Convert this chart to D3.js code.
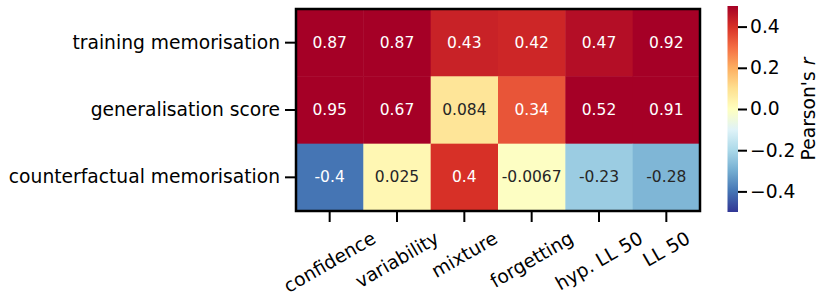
<!DOCTYPE html>
<html>
<head>
<meta charset="utf-8">
<script src="https://cdn.jsdelivr.net/npm/d3@7"></script>
<style>
    body { margin: 0; background: #fff; }
    svg { display: block; font-family: "DejaVu Sans", sans-serif; }
</style>
</head>
<body>
<div class="graphContainer"></div>
<script>
// Row and column labels
const rowNames = ['training memorisation', 'generalisation score', 'counterfactual memorisation'];
const colNames = ['confidence', 'variability', 'mixture', 'forgetting', 'hyp. LL 50', 'LL 50'];

// Correlation values, one array per row
const trainingValues = [0.87, 0.87, 0.43, 0.42, 0.47, 0.92];
const generalisationValues = [0.95, 0.67, 0.084, 0.34, 0.52, 0.91];
const counterfactualValues = [-0.4, 0.025, 0.4, -0.0067, -0.23, -0.28];

// Colorbar ticks
const colorbarTicks = [-0.4, -0.2, 0, 0.2, 0.4];

// RdYlBu_r stops
const rdylbuStops = ['#313695', '#4575b4', '#74add1', '#abd9e9', '#e0f3f8', '#ffffbf',
    '#fee090', '#fdae61', '#f46d43', '#d73027', '#a50026'];

const renderChart = () => {
    const width = 830, height = 303;
    const left = 296, right = 700, top = 9, bottom = 211;
    const tickFont = 18.7;

    const svg = d3.select('.graphContainer')
        .append('svg')
        .attr('width', width)
        .attr('height', height);

    const rows = [trainingValues, generalisationValues, counterfactualValues];
    const cells = [];
    rows.forEach((vals, i) => vals.forEach((v, j) => cells.push({ row: rowNames[i], col: colNames[j], value: v })));

    // Scales
    const x = d3.scaleBand().domain(colNames).range([left, right]);
    const y = d3.scaleBand().domain(rowNames).range([top, bottom]);
    const color = d3.scaleLinear()
        .domain(d3.range(11).map(i => -0.5 + i / 10))
        .range(rdylbuStops)
        .interpolate(d3.interpolateRgb)
        .clamp(true);

    const luminance = c => {
        const rgb = d3.rgb(c);
        const lin = v => { v /= 255; return v <= 0.03928 ? v / 12.92 : Math.pow((v + 0.055) / 1.055, 2.4); };
        return 0.2126 * lin(rgb.r) + 0.7152 * lin(rgb.g) + 0.0722 * lin(rgb.b);
    };
    const fmt = d3.formatLocale({ decimal: '.', thousands: ',', grouping: [3], currency: ['', ''], minus: '-' }).format('.2~g');

    // Cells
    svg.append('g').selectAll('rect')
        .data(cells)
        .enter()
        .append('rect')
        .attr('x', d => x(d.col))
        .attr('y', d => y(d.row))
        .attr('width', x.bandwidth() + 0.5)
        .attr('height', y.bandwidth() + 0.5)
        .attr('fill', d => color(d.value));

    // Annotations
    svg.append('g').selectAll('text')
        .data(cells)
        .enter()
        .append('text')
        .attr('x', d => x(d.col) + x.bandwidth() / 2)
        .attr('y', d => y(d.row) + y.bandwidth() / 2)
        .attr('text-anchor', 'middle')
        .attr('dominant-baseline', 'central')
        .attr('font-size', 15.5)
        .attr('fill', d => luminance(color(d.value)) > 0.408 ? '#262626' : '#ffffff')
        .text(d => fmt(d.value));

    // Frame
    svg.append('rect')
        .attr('x', left).attr('y', top)
        .attr('width', right - left).attr('height', bottom - top)
        .attr('fill', 'none')
        .attr('stroke', '#000')
        .attr('stroke-width', 2.5);

    // Y axis
    const yAxis = svg.append('g')
        .attr('transform', `translate(${left - 1},0)`)
        .call(d3.axisLeft(y).tickSize(10).tickPadding(5));
    yAxis.select('.domain').remove();
    yAxis.selectAll('line').attr('stroke-width', 2);
    yAxis.selectAll('text').attr('font-size', tickFont).attr('fill', '#000')
        .attr('font-family', '"DejaVu Sans", sans-serif');

    // X axis
    const xAxis = svg.append('g')
        .attr('transform', `translate(0,${bottom + 1})`)
        .call(d3.axisBottom(x).tickSize(10));
    xAxis.select('.domain').remove();
    xAxis.selectAll('line').attr('stroke-width', 2);
    const ang = Math.PI / 6;
    xAxis.selectAll('text')
        .attr('font-size', tickFont)
        .attr('fill', '#000')
        .attr('font-family', '"DejaVu Sans", sans-serif')
        .attr('y', 0).attr('dy', null)
        .attr('text-anchor', 'middle')
        .attr('dominant-baseline', 'central')
        .each(function () {
            const w = this.getComputedTextLength();
            const h = tickFont * 1.164;
            const H = w * Math.sin(ang) + h * Math.cos(ang);
            d3.select(this).attr('transform', `translate(0,${15 + H / 2}) rotate(-30)`);
        });

    // Colorbar
    const cbX = 727.5, cbW = 10.5, cbTop = 6, cbBottom = 212;
    const cbScale = d3.scaleLinear().domain([-0.5, 0.5]).range([cbBottom, cbTop]);
    const grad = svg.append('defs').append('linearGradient')
        .attr('id', 'cbGrad')
        .attr('x1', 0).attr('y1', 1).attr('x2', 0).attr('y2', 0);
    grad.selectAll('stop')
        .data(d3.range(0, 1.0001, 0.02))
        .enter()
        .append('stop')
        .attr('offset', d => d)
        .attr('stop-color', d => color(-0.5 + d));
    svg.append('rect')
        .attr('x', cbX).attr('y', cbTop)
        .attr('width', cbW).attr('height', cbBottom - cbTop)
        .attr('fill', 'url(#cbGrad)');

    const cbAxis = svg.append('g')
        .attr('transform', `translate(${cbX + cbW},0)`)
        .call(d3.axisRight(cbScale).tickValues(colorbarTicks).tickFormat(d3.format('.1f')).tickSize(9).tickPadding(3));
    cbAxis.select('.domain').remove();
    cbAxis.selectAll('line').attr('stroke-width', 2);
    cbAxis.selectAll('text').attr('font-size', tickFont).attr('fill', '#000')
        .attr('font-family', '"DejaVu Sans", sans-serif');

    // Colorbar label
    const label = svg.append('text')
        .attr('transform', `translate(808,${(cbTop + cbBottom) / 2}) rotate(-90)`)
        .attr('text-anchor', 'middle')
        .attr('dominant-baseline', 'central')
        .attr('font-size', tickFont)
        .text("Pearson's ");
    label.append('tspan').attr('font-style', 'italic').text('r');
};

renderChart();
</script>
</body>
</html>
